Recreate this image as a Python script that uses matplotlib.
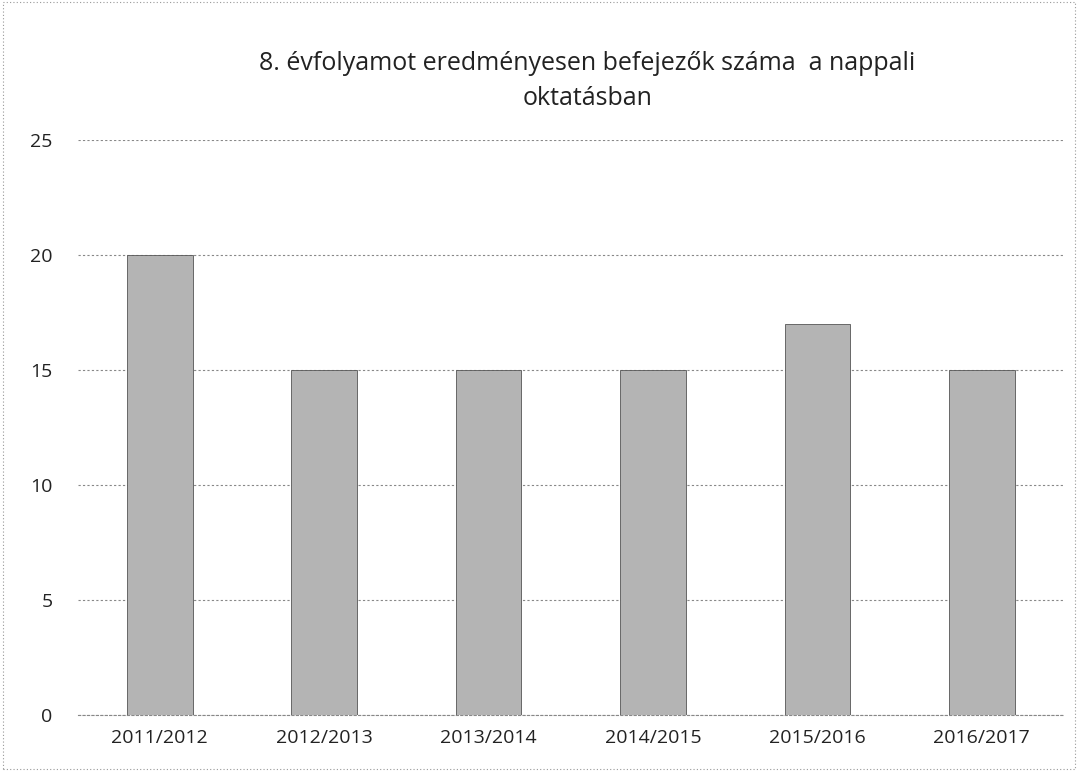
import matplotlib.pyplot as plt
from matplotlib.patches import Rectangle

years = ["2011/2012", "2012/2013", "2013/2014", "2014/2015", "2015/2016", "2016/2017"]
counts = [20, 15, 15, 15, 17, 15]
y_ticks = [0, 5, 10, 15, 20, 25]

plt.rcParams['font.family'] = ['Open Sans', 'DejaVu Sans']

fig = plt.figure(figsize=(10.78, 7.71), dpi=100)
ax = fig.add_axes([0.072, 0.073, 0.915, 0.745])

ax.bar(range(len(years)), counts, width=0.4, color="#b4b4b4",
       edgecolor="#555555", linewidth=0.6, zorder=3)

ax.set_ylim(0, 25)
ax.set_xlim(-0.5, len(years) - 0.5)
ax.set_yticks(y_ticks)
ax.set_xticks(range(len(years)))
ax.set_xticklabels(years)
ax.tick_params(axis="both", length=0, labelsize=14, colors="#222222")
ax.tick_params(axis="y", pad=18)
ax.tick_params(axis="x", pad=10)

ax.grid(axis="y", color="#888888", linestyle=(0, (2, 2)), linewidth=0.8, zorder=0)
for s in ["top", "right", "left"]:
    ax.spines[s].set_visible(False)
ax.spines["bottom"].set_color("#888888")
ax.spines["bottom"].set_linestyle((0, (2, 2)))
ax.spines["bottom"].set_linewidth(0.8)

fig.text(0.545, 0.895, "8. évfolyamot eredményesen befejezők száma  a nappali\noktatásban",
         ha="center", va="center", fontsize=18, color="#222222", linespacing=1.5)

fig.patches.append(Rectangle((0.003, 0.003), 0.994, 0.994, transform=fig.transFigure,
                             fill=False, edgecolor="#999999", linestyle=(0, (1, 2)),
                             linewidth=0.8))

fig.savefig("out.png", dpi=100)
